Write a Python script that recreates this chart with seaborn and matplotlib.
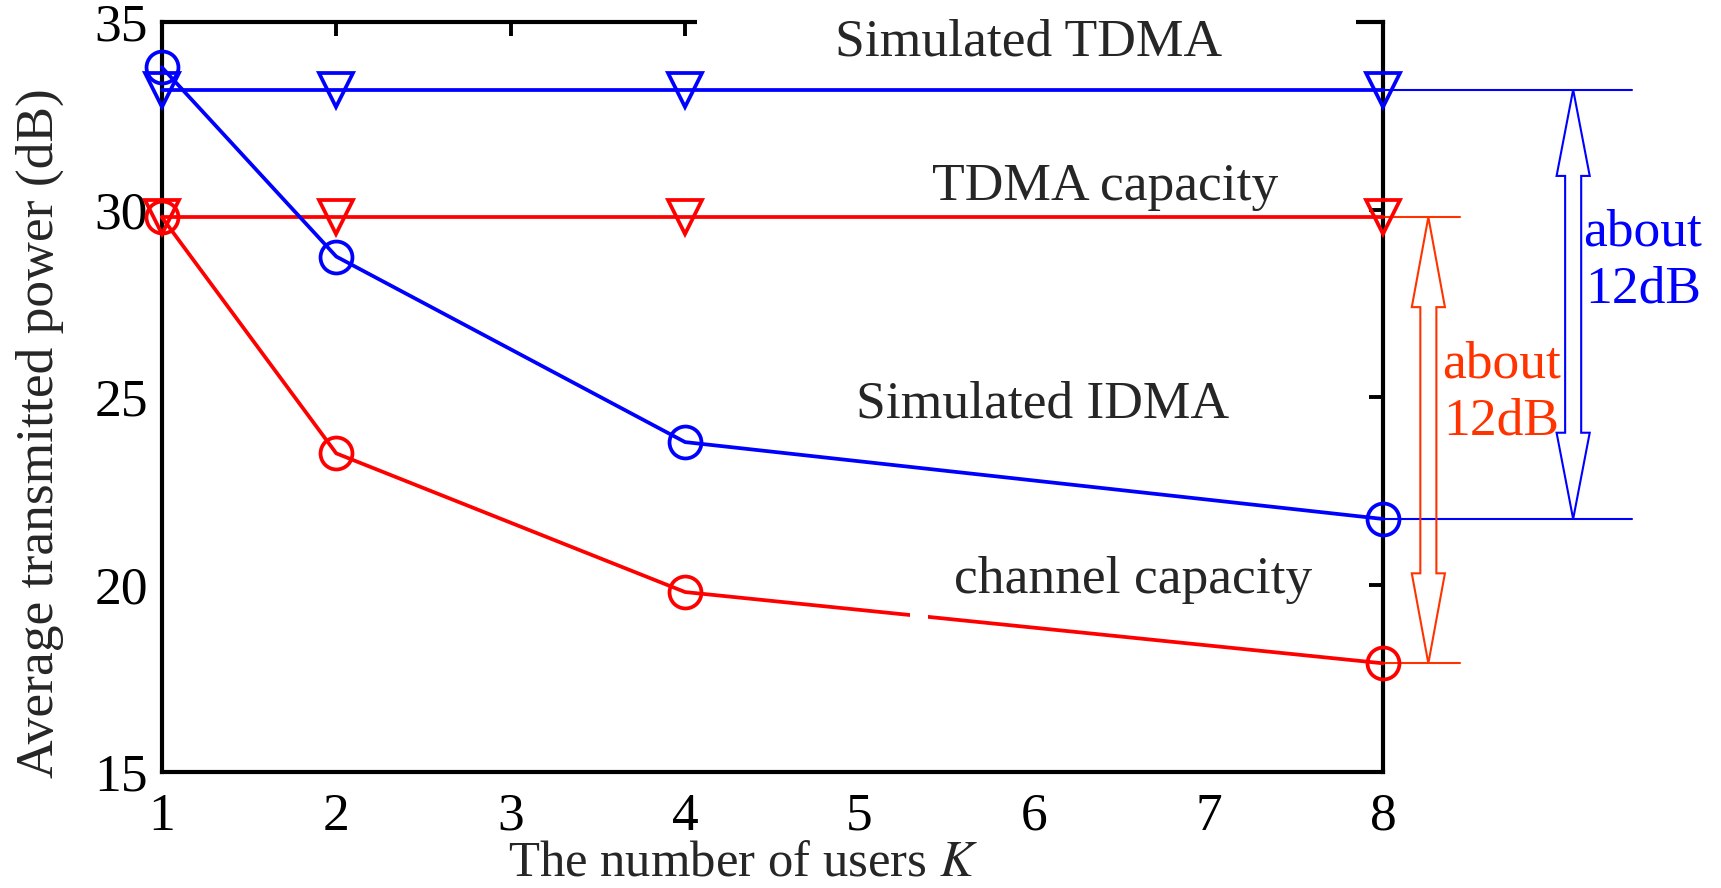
import matplotlib
matplotlib.use("Agg")
import matplotlib.pyplot as plt
import seaborn as sns
from matplotlib.patches import Polygon, Rectangle

# number of users K
users = [1, 2, 4, 8]

# average transmitted power (dB)
sim_tdma = [33.2, 33.2, 33.2, 33.2]
tdma_capacity = [29.8, 29.8, 29.8, 29.8]
sim_idma = [33.8, 28.75, 23.8, 21.75]
channel_capacity = [29.8, 23.5, 19.8, 17.9]

x_ticks = [1, 2, 3, 4, 5, 6, 7, 8]
y_ticks = [15, 20, 25, 30, 35]

series_names = ["Simulated TDMA", "TDMA capacity", "Simulated IDMA", "channel capacity"]
gap_text = "about\n12dB"

BLUE = "#0000ff"
RED = "#ff0000"
ORANGE = "#ff3300"
FS = 38.5

sns.set_style("white")
plt.rcParams['font.family'] = ['Liberation Serif', 'DejaVu Serif']
plt.rcParams['mathtext.fontset'] = 'stix'

fig, ax = plt.subplots(figsize=(17.21, 8.88), dpi=100)
fig.subplots_adjust(left=0.094, right=0.8036, top=0.975, bottom=0.1306)


def draw_series(values, color, marker, ms):
    sns.lineplot(x=users, y=values, color=color, marker=marker, markersize=ms,
                 markerfacecolor='none', markeredgecolor=color, markeredgewidth=2.7,
                 linewidth=2.7, clip_on=False, zorder=5, ax=ax)


draw_series(sim_tdma, BLUE, 'v', 25)
draw_series(tdma_capacity, RED, 'v', 25)
draw_series(sim_idma, BLUE, 'o', 23)
draw_series(channel_capacity, RED, 'o', 23)

ax.set_xlim(1, 8)
ax.set_ylim(15, 35)
ax.set_xticks(x_ticks)
ax.set_yticks(y_ticks)
ax.tick_params(direction='in', length=10, width=2.8, top=True, right=True,
               labelsize=FS, colors='black')
ax.tick_params(axis='x', pad=15)
ax.tick_params(axis='y', pad=10)
for sp in ax.spines.values():
    sp.set_linewidth(3.0)
    sp.set_color('black')

ax.set_xlabel("The number of users $K$", fontsize=36.5)
ax.set_ylabel("Average transmitted power (dB)", fontsize=FS)
ax.xaxis.set_label_coords(0.476, -0.091)
ax.yaxis.set_label_coords(-0.080, 0.452)

# curve labels
label_x = [5.97, 6.41, 6.05, 6.57]
label_y = [34.47, 30.6, 24.81, 20.12]
for name, lx, ly in zip(series_names, label_x, label_y):
    ax.text(lx, ly, name, ha='center', va='center', fontsize=FS, zorder=7)

# white box behind "Simulated TDMA" hides part of the top frame
ax.add_patch(Rectangle((0.438, 0.975), 0.54, 0.05, transform=ax.transAxes,
                       facecolor='white', edgecolor='none', zorder=6, clip_on=False))
# small white gap in the channel capacity curve
ax.add_patch(Rectangle((5.29, 18.95), 0.1, 0.5, facecolor='white',
                       edgecolor='none', zorder=6))


def double_arrow(xc, y0, y1, color, head_len):
    hs, hh = 0.046, 0.095
    verts = [(xc, y1), (xc + hh, y1 - head_len), (xc + hs, y1 - head_len),
             (xc + hs, y0 + head_len), (xc + hh, y0 + head_len), (xc, y0),
             (xc - hh, y0 + head_len), (xc - hs, y0 + head_len),
             (xc - hs, y1 - head_len), (xc - hh, y1 - head_len)]
    ax.add_patch(Polygon(verts, closed=True, facecolor='none', edgecolor=color,
                         linewidth=1.5, clip_on=False, zorder=4))


# blue bracket: simulated TDMA vs simulated IDMA
for yv in [sim_tdma[-1], sim_idma[-1]]:
    ax.plot([users[-1], 9.43], [yv, yv], color=BLUE, lw=1.5, clip_on=False, zorder=4)
double_arrow(9.09, sim_idma[-1], sim_tdma[-1], BLUE, 2.3)
ax.text(9.49, 28.63, gap_text, color=BLUE, ha='center', va='center',
        fontsize=FS, linespacing=1.22)

# red bracket: TDMA capacity vs channel capacity
for yv in [tdma_capacity[-1], channel_capacity[-1]]:
    ax.plot([users[-1], 8.44], [yv, yv], color=ORANGE, lw=1.5, clip_on=False, zorder=4)
double_arrow(8.26, channel_capacity[-1], tdma_capacity[-1], ORANGE, 2.4)
ax.text(8.68, 25.11, gap_text, color=ORANGE, ha='center', va='center',
        fontsize=FS, linespacing=1.22)

fig.savefig("out.png", dpi=100)
